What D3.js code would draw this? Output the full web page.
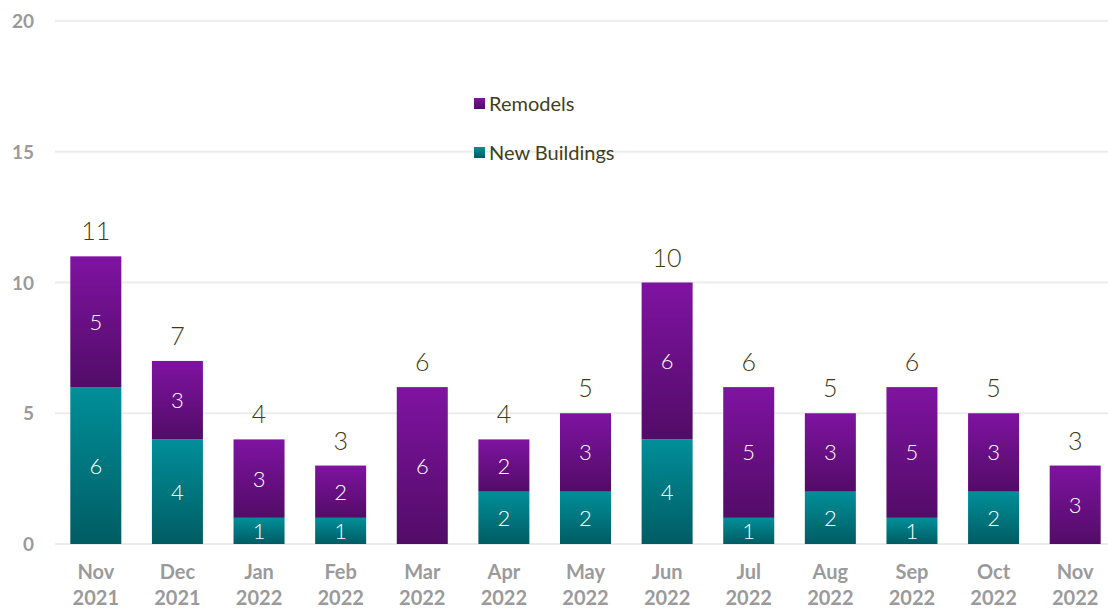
<!DOCTYPE html>
<html>
<head>
<style>
body { margin: 0; background: #fff; }
svg { display: block; }
</style>
<script src="https://cdn.jsdelivr.net/npm/d3@7"></script>
</head>
<body>
<svg id="chart" width="1108" height="608"></svg>
<script>
var months = ["Nov", "Dec", "Jan", "Feb", "Mar", "Apr", "May", "Jun", "Jul", "Aug", "Sep", "Oct", "Nov"];
var years = ["2021", "2021", "2022", "2022", "2022", "2022", "2022", "2022", "2022", "2022", "2022", "2022", "2022"];
var newBuildings = [6, 4, 1, 1, 0, 2, 2, 4, 1, 2, 1, 2, 0];
var remodels = [5, 3, 3, 2, 6, 2, 3, 6, 5, 3, 5, 3, 3];
var yTicks = [0, 5, 10, 15, 20];
var seriesNames = ["New Buildings", "Remodels"];

var svg = d3.select("#chart");
var font = "Lato, 'Open Sans', sans-serif";

var x = d3.scaleBand().domain(d3.range(months.length)).range([55, 1116]).paddingInner(0.375).paddingOuter(0.1875);
var y = d3.scaleLinear().domain([0, 20]).range([544, 21]);

var defs = svg.append("defs");
function grad(id, top, bottom) {
  var g = defs.append("linearGradient").attr("id", id).attr("x1", 0).attr("y1", 0).attr("x2", 0).attr("y2", 1);
  g.append("stop").attr("offset", "0%").attr("stop-color", top);
  g.append("stop").attr("offset", "100%").attr("stop-color", bottom);
}
grad("gTeal", "#008f99", "#005c63");
grad("gPurple", "#7f13a1", "#520c67");
var fills = ["url(#gTeal)", "url(#gPurple)"];

// gridlines
svg.append("g").selectAll("line").data(yTicks).join("line")
  .attr("x1", 55).attr("x2", 1108)
  .attr("y1", function(d) { return y(d); }).attr("y2", function(d) { return y(d); })
  .attr("stroke", "#ececec").attr("stroke-width", 2);

svg.append("g").selectAll("text").data(yTicks).join("text")
  .attr("x", 34).attr("y", function(d) { return y(d) + 7; })
  .attr("text-anchor", "end")
  .attr("font-family", font).attr("font-weight", "bold").attr("font-size", 19)
  .attr("fill", "#9a9a9c")
  .text(function(d) { return d; });

var rows = months.map(function(m, i) { return { i: i, nb: newBuildings[i], rm: remodels[i] }; });
var stacked = d3.stack().keys(["nb", "rm"])(rows);

var layers = svg.append("g").selectAll("g").data(stacked).join("g")
  .attr("fill", function(d, k) { return fills[k]; });

layers.selectAll("rect").data(function(d) { return d; }).join("rect")
  .attr("x", function(d) { return x(d.data.i); })
  .attr("width", x.bandwidth())
  .attr("y", function(d) { return y(d[1]); })
  .attr("height", function(d) { return y(d[0]) - y(d[1]); });

layers.selectAll("text").data(function(d) { return d.filter(function(s) { return s[1] - s[0] > 0; }); }).join("text")
  .attr("x", function(d) { return x(d.data.i) + x.bandwidth() / 2; })
  .attr("y", function(d) { return (y(d[0]) + y(d[1])) / 2 + 8; })
  .attr("text-anchor", "middle")
  .attr("font-family", font).attr("font-weight", 300).attr("font-size", 22)
  .attr("fill", "#ffffff")
  .text(function(d) { return d[1] - d[0]; });

// totals
svg.append("g").selectAll("text").data(rows).join("text")
  .attr("x", function(d) { return x(d.i) + x.bandwidth() / 2; })
  .attr("y", function(d) { return y(d.nb + d.rm) - 16; })
  .attr("text-anchor", "middle")
  .attr("font-family", font).attr("font-weight", 300).attr("font-size", 25)
  .attr("fill", "#3b3b14")
  .text(function(d) { return d.nb + d.rm; });

// x labels
var xl = svg.append("g").selectAll("text").data(rows).join("text")
  .attr("text-anchor", "middle")
  .attr("font-family", font).attr("font-weight", "bold").attr("font-size", 20)
  .attr("fill", "#9a9a9c");
xl.append("tspan").attr("x", function(d) { return x(d.i) + x.bandwidth() / 2; }).attr("y", 579)
  .text(function(d) { return months[d.i]; });
xl.append("tspan").attr("x", function(d) { return x(d.i) + x.bandwidth() / 2; }).attr("y", 605)
  .text(function(d) { return years[d.i]; });

// legend
var legendY = [153, 104];
var lg = svg.append("g").selectAll("g").data(seriesNames).join("g")
  .attr("transform", function(d, k) { return "translate(474," + legendY[k] + ")"; });
lg.append("rect").attr("x", 0).attr("y", -6).attr("width", 11).attr("height", 11)
  .attr("fill", function(d, k) { return fills[k]; });
lg.append("text").attr("x", 15).attr("y", 7)
  .attr("font-family", font).attr("font-size", 20)
  .attr("fill", "#3f3f1c")
  .text(function(d) { return d; });
</script>
</body>
</html>
